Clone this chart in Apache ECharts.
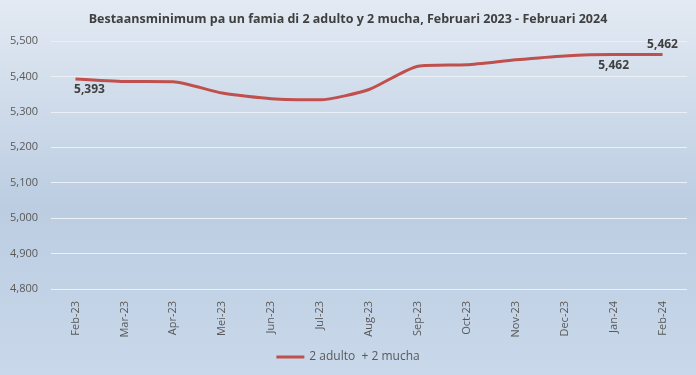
<!DOCTYPE html>
<html>
<head>
<meta charset="utf-8">
<script src="https://cdn.jsdelivr.net/npm/echarts@6/dist/echarts.min.js"></script>
<style>
html,body{margin:0;padding:0;}
#c{width:696px;height:375px;}
</style>
</head>
<body>
<div id="c"></div>
<script>
var titleText = 'Bestaansminimum pa un famia di 2 adulto y 2 mucha, Februari 2023 - Februari 2024';
var seriesName = '2 adulto  + 2 mucha';
var categories = ['Feb-23','Mar-23','Apr-23','Mei-23','Jun-23','Jul-23','Aug-23','Sep-23','Oct-23','Nov-23','Dec-23','Jan-24','Feb-24'];
var values = [5393,5386,5385,5353,5337,5334,5363,5429,5433,5447,5458,5462,5462];
var labelBelow = [0, 11];
var labelAbove = [12];
var yMin = 4800, yMax = 5500, yStep = 100;

var chart = echarts.init(document.getElementById('c'));
var fontFam = '"Open Sans","Liberation Sans",sans-serif';
function fmt(v){ return v.toLocaleString('en-US'); }
var seriesData = values.map(function(v, i){
  if (labelBelow.indexOf(i) >= 0) return {value: v, label: {show: true, position: 'bottom', distance: 5, offset: [i === 0 ? 14 : 0, 0]}};
  if (labelAbove.indexOf(i) >= 0) return {value: v, label: {show: true, position: 'top', distance: 4}};
  return {value: v};
});
chart.setOption({
  backgroundColor: {
    type: 'linear', x: 0, y: 0, x2: 0, y2: 1,
    colorStops: [
      {offset: 0, color: '#e3eaf3'},
      {offset: 0.55, color: '#bccde2'},
      {offset: 1, color: '#c9d8ea'}
    ]
  },
  title: {
    text: titleText,
    left: 'center', top: 8,
    textStyle: {fontFamily: fontFam, fontSize: 12.5, fontWeight: 'bold', color: '#404040'}
  },
  legend: {
    bottom: 7, left: 'center',
    itemWidth: 28, itemHeight: 3, icon: 'rect',
    textStyle: {fontFamily: fontFam, fontSize: 12, color: '#595959'},
    data: [seriesName]
  },
  grid: {left: 51, right: 9, top: 41, bottom: 86},
  xAxis: {
    type: 'category', data: categories, boundaryGap: true,
    axisLine: {show: false}, axisTick: {show: false},
    axisLabel: {rotate: 90, margin: 12, fontFamily: fontFam, fontSize: 11, color: '#595959'}
  },
  yAxis: {
    type: 'value', min: yMin, max: yMax, interval: yStep,
    axisLine: {show: false}, axisTick: {show: false},
    splitLine: {lineStyle: {color: '#eaf0f6', width: 1}},
    axisLabel: {
      margin: 13, fontFamily: fontFam, fontSize: 11, color: '#595959',
      formatter: fmt
    }
  },
  series: [{
    name: seriesName, type: 'line', data: seriesData,
    smooth: 0.2, symbol: 'circle', symbolSize: 0, showSymbol: true,
    lineStyle: {color: '#c0504d', width: 3},
    itemStyle: {color: '#c0504d'},
    label: {
      show: false, fontFamily: fontFam, fontSize: 12, fontWeight: 'bold', color: '#404040',
      formatter: function(p){ return fmt(p.value); }
    }
  }]
});
</script>
</body>
</html>
